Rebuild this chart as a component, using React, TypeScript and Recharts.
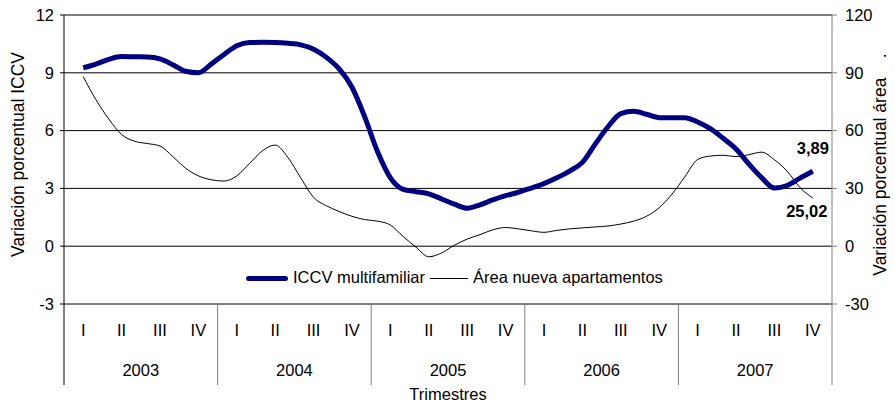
import React from 'react';
import { LineChart, Line, XAxis, YAxis, CartesianGrid, LabelList } from 'recharts';

const years = ['2003', '2004', '2005', '2006', '2007'];
const quarters = ['I', 'II', 'III', 'IV'];

// valores mensuales, feb-2003 a nov-2007
const iccv = [
  9.26, 9.45, 9.7, 9.84, 9.83, 9.82, 9.72, 9.42, 9.08, 9.0,
  9.45, 9.95, 10.4, 10.57, 10.58, 10.57, 10.53, 10.45, 10.22, 9.8,
  9.2, 8.25, 6.7, 4.9, 3.55, 2.95, 2.83, 2.72, 2.45, 2.18,
  1.97, 2.15, 2.4, 2.62, 2.8, 3.02, 3.25, 3.55, 3.9, 4.35,
  5.3, 6.2, 6.88, 7.0, 6.85, 6.67, 6.67, 6.67, 6.45, 6.1,
  5.6, 5.05, 4.27, 3.56, 3.02, 3.15, 3.53, 3.89,
];
const areaNueva = [
  88, 76, 66, 58, 54.5, 53.3, 52, 46.5, 40.5, 36.5,
  34.5, 33.8, 36.5, 43, 49.5, 52.5, 46, 35.4, 25.3, 21,
  18, 15.5, 13.8, 13, 11, 5, -0.5, -5.5, -3.5, 0.5,
  3.7, 6, 8.5, 9.7, 9, 8, 7.2, 8.2, 9, 9.5,
  10, 10.5, 11.5, 13, 15.5, 20, 27, 36, 45, 46.8,
  47.2, 46.5, 47.5, 48.8, 44.9, 38.9, 30.4, 25.02,
];

const leftTicks = [-3, 0, 3, 6, 9, 12];
const rightTicks = [-30, 0, 30, 60, 90, 120];

const data = iccv.map((v, i) => ({ mes: i + 1.5, iccv: v, area: areaNueva[i] }));

// ticks del eje x: limites de año, centros de trimestre y centros de año
const yearEdges = [0, ...years.map((_, y) => (y + 1) * 12)];
const quarterMid = years.flatMap((_, y) => quarters.map((_, q) => y * 12 + q * 3 + 1.5));
const yearMid = years.map((_, y) => y * 12 + 6);
const xTicks = [...yearEdges, ...quarterMid, ...yearMid];

const FONT = '"Liberation Sans", Arial, sans-serif';

const MonthTick = (props: any) => {
  const { x, y, payload } = props;
  const v = payload.value;
  if (v % 12 === 0) {
    const stroke = v === 0 ? '#000' : '#808080';
    return <line x1={x} x2={x} y1={y} y2={y + 81} stroke={stroke} strokeWidth={1} />;
  }
  if (v % 12 === 6) {
    return (
      <text x={x} y={y + 72} textAnchor="middle" fontSize={16.5} fill="#000" fontFamily={FONT}>
        {years[Math.floor(v / 12)]}
      </text>
    );
  }
  const q = Math.floor((v % 12) / 3);
  return (
    <text x={x} y={y + 32} textAnchor="middle" fontSize={16.5} fill="#000" fontFamily={FONT}>
      {quarters[q]}
    </text>
  );
};

const LeftTitle = (props: any) => {
  const { x, y, height } = props.viewBox;
  const cx = x + 18;
  const cy = y + height / 2 - 5;
  return (
    <text x={cx} y={cy} transform={`rotate(-90 ${cx} ${cy})`} textAnchor="middle" dominantBaseline="central"
      fontSize={17.5} fill="#000" fontFamily={FONT}>
      Variación porcentual ICCV
    </text>
  );
};

const RightTitle = (props: any) => {
  const { x, y, height } = props.viewBox;
  const cx = x + 48;
  const cy = y + height / 2 + 5;
  return (
    <text x={cx} y={cy} transform={`rotate(-90 ${cx} ${cy})`} textAnchor="middle" dominantBaseline="central"
      fontSize={17.5} fill="#000" fontFamily={FONT} style={{ whiteSpace: 'pre' }}>
      {'Variación porcentual área    .'}
    </text>
  );
};

const lastValueLabel = (target: number, dx: number, dy: number) => (p: any) => {
  if (p.value !== target) return null;
  const px = p.x ?? p.viewBox?.x;
  const py = p.y ?? p.viewBox?.y;
  return (
    <text x={px + dx} y={py + dy} textAnchor="middle" fontWeight="bold" fontSize={16.5} fill="#000" fontFamily={FONT}>
      {String(target).replace('.', ',')}
    </text>
  );
};

const legendText: React.CSSProperties = {
  position: 'absolute',
  top: 268,
  fontSize: 16.5,
  lineHeight: '19px',
  fontFamily: FONT,
  color: '#000',
  whiteSpace: 'nowrap',
};

export default function App() {
  return (
    <div style={{ position: 'absolute', left: 0, top: 0, width: 895, height: 407, background: '#fff', fontFamily: FONT }}>
      <LineChart width={895} height={407} data={data} margin={{ top: 15, right: 0, bottom: 0, left: 0 }}>
        <CartesianGrid xAxisId="m" yAxisId="left" vertical={false} stroke="#000" strokeWidth={1} />
        <XAxis
          xAxisId="m"
          type="number"
          dataKey="mes"
          domain={[0, 60]}
          ticks={xTicks}
          interval={0}
          tick={<MonthTick />}
          tickLine={false}
          axisLine={false}
          tickSize={0}
          tickMargin={0}
          height={103}
          label={{ value: 'Trimestres', position: 'insideBottom', offset: 7, fontSize: 16.5, fill: '#000', fontFamily: FONT }}
        />
        <YAxis
          yAxisId="left"
          domain={[-3, 12]}
          ticks={leftTicks}
          width={64}
          tickSize={4}
          tickMargin={6}
          axisLine={{ stroke: '#000' }}
          tickLine={{ stroke: '#000' }}
          tick={{ fontSize: 16.5, fill: '#000', fontFamily: FONT }}
          label={{ content: <LeftTitle /> }}
        />
        <YAxis
          yAxisId="right"
          orientation="right"
          domain={[-30, 120]}
          ticks={rightTicks}
          width={63}
          tickSize={5}
          tickMargin={8}
          axisLine={{ stroke: '#808080' }}
          tickLine={{ stroke: '#808080' }}
          tick={{ fontSize: 16.5, fill: '#000', fontFamily: FONT, textAnchor: 'start' }}
          label={{ content: <RightTitle /> }}
        />
        <Line
          xAxisId="m"
          yAxisId="right"
          type="monotone"
          dataKey="area"
          stroke="#000"
          strokeWidth={1}
          dot={false}
          activeDot={false}
          isAnimationActive={false}
        >
          <LabelList dataKey="area" content={lastValueLabel(25.02, -6, 19)} />
        </Line>
        <Line
          xAxisId="m"
          yAxisId="left"
          type="monotone"
          dataKey="iccv"
          stroke="#000080"
          strokeWidth={5}
          dot={false}
          activeDot={false}
          isAnimationActive={false}
        >
          <LabelList dataKey="iccv" content={lastValueLabel(3.89, 0, -17)} />
        </Line>
      </LineChart>

      <div style={{ position: 'absolute', left: 246, top: 275.5, width: 42, height: 5, background: '#000080', borderRadius: 2.5 }} />
      <div style={{ ...legendText, left: 293 }}>ICCV multifamiliar</div>
      <div style={{ position: 'absolute', left: 430, top: 277.5, width: 38, height: 1, background: '#000' }} />
      <div style={{ ...legendText, left: 473 }}>Área nueva apartamentos</div>
    </div>
  );
}
